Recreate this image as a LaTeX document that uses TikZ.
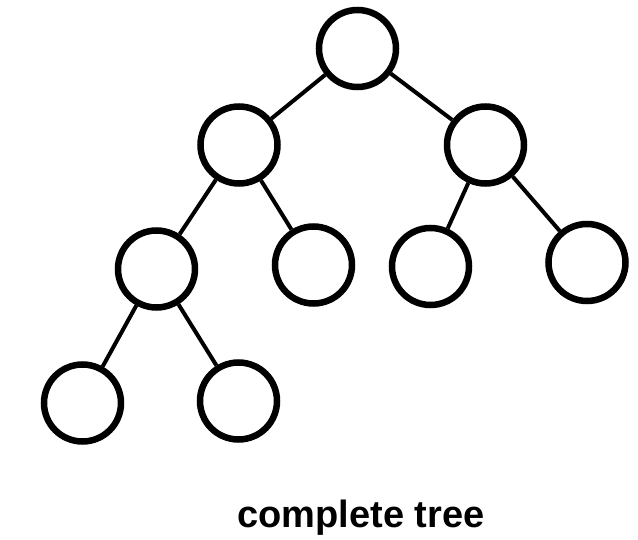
\documentclass[tikz,border=0pt]{standalone}
\usepackage{fontspec}
\setmainfont{Liberation Sans}
\begin{document}
\begin{tikzpicture}[x=1pt,y=-1pt,
  vert/.style={circle,draw,line width=6.5pt,minimum size=77pt,inner sep=0pt},
  edge/.style={line width=4pt}]
\useasboundingbox (0,0) rectangle (638,540);
\node[vert] (r) at (357.5,48.5) {};
\node[vert] (a) at (239,145) {};
\node[vert] (b) at (485.5,145) {};
\node[vert] (c) at (156.5,269) {};
\node[vert] (d) at (313.5,265) {};
\node[vert] (e) at (430.5,266.5) {};
\node[vert] (f) at (587,262.5) {};
\node[vert] (g) at (82.5,403) {};
\node[vert] (h) at (238.5,401) {};
\draw[edge] (r) -- (a);
\draw[edge] (r) -- (b);
\draw[edge] (a) -- (c);
\draw[edge] (a) -- (d);
\draw[edge] (b) -- (e);
\draw[edge] (b) -- (f);
\draw[edge] (c) -- (g);
\draw[edge] (c) -- (h);
\node[anchor=base,font=\fontsize{38}{40}\selectfont\bfseries,inner sep=0pt] (t) at (361,527) {complete tree};
\end{tikzpicture}
\end{document}
